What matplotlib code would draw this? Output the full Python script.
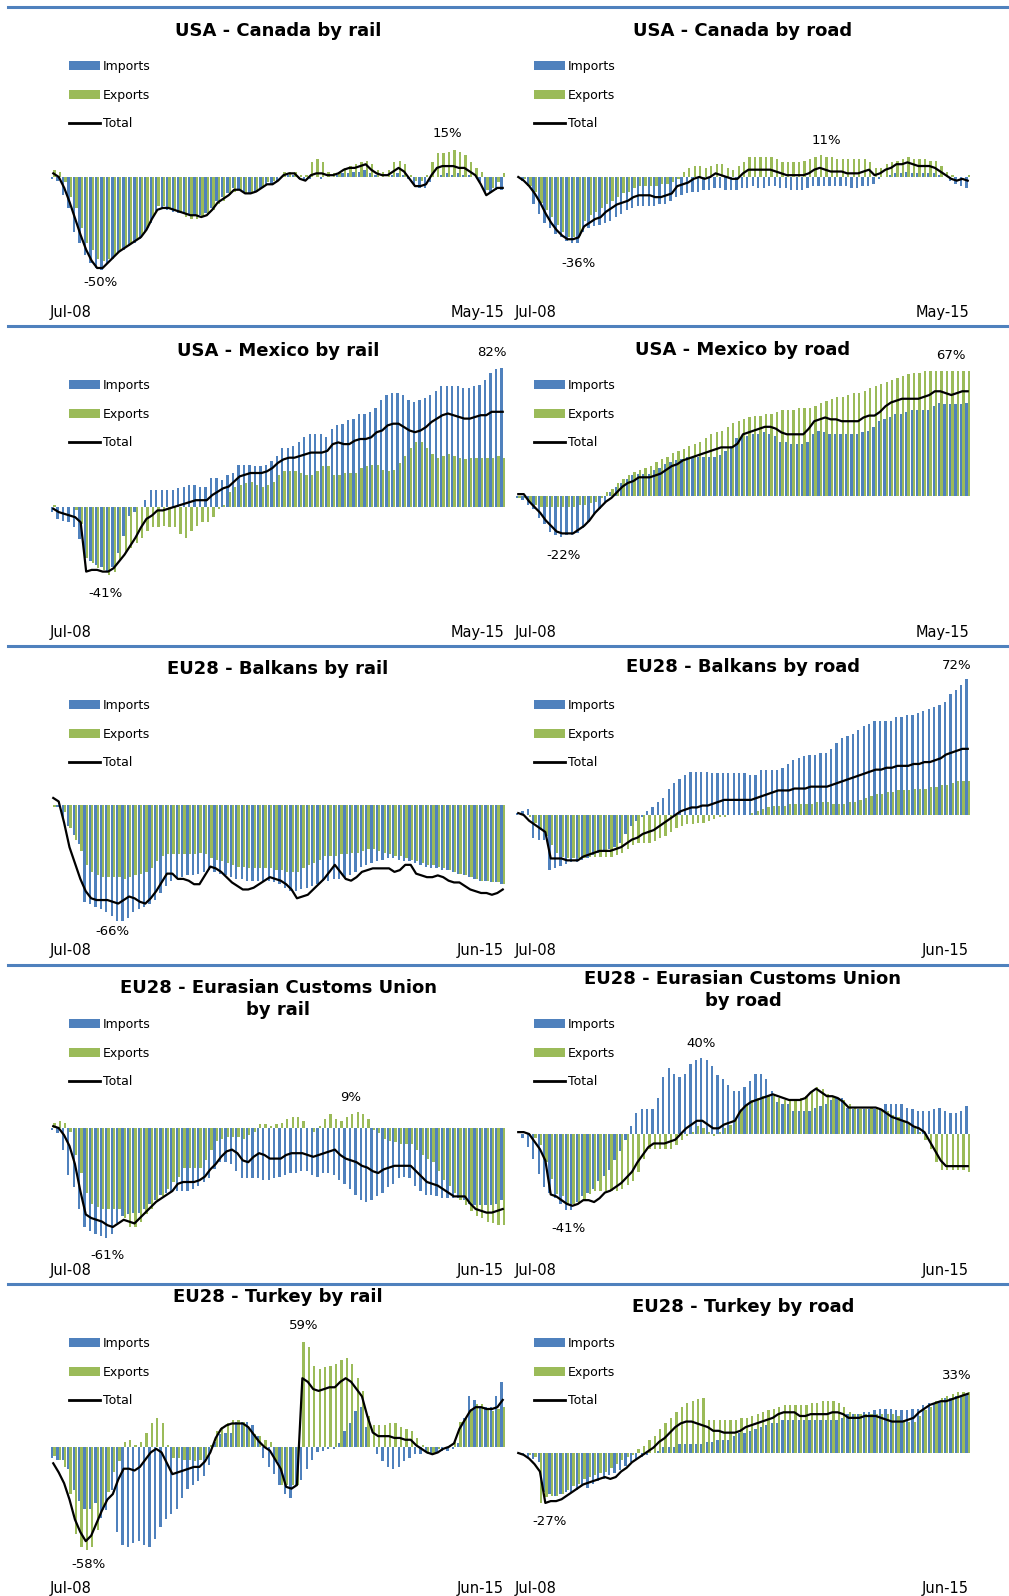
import numpy as np
import matplotlib.pyplot as plt
from matplotlib.patches import Patch
from matplotlib.lines import Line2D

BLUE = "#4F81BD"
GREEN = "#9BBB59"

start_label = "Jul-08"

# USA - Canada by rail (Jul-08 .. May-15)
can_rail_imp = [-1, -2, -10, -17, -30, -36, -43, -47, -50, -51,
                -48, -45, -42, -40, -38, -36, -34, -30, -25, -19,
                -17, -18, -19, -20, -20, -21, -21, -21, -20, -17,
                -13, -11, -9, -6, -7, -9, -9, -8, -6, -4,
                -4, -3, 0, 1, 1, -1, -2, -1, 0, -1,
                0, 0, 1, 2, 2, 3, 3, 4, 2, 1,
                0, 0, 1, 2, 1, -1, -4, -6, -6, -3,
                0, 1, 2, 1, 2, 1, 1, 0, -3, -8,
                -9, -7, -7]
can_rail_exp = [4, 3, -3, -11, -17, -28, -36, -40, -45, -46,
                -45, -43, -40, -38, -36, -34, -32, -28, -22, -16,
                -16, -17, -18, -20, -22, -23, -23, -22, -21, -18,
                -15, -13, -10, -8, -7, -9, -9, -8, -6, -3,
                -2, 0, 3, 3, 3, 1, 1, 8, 10, 8,
                3, 2, 3, 5, 6, 7, 8, 9, 7, 4,
                3, 4, 8, 9, 7, 1, -2, -2, 1, 8,
                13, 13, 14, 15, 14, 12, 8, 5, 3, -7,
                -6, -3, 2]
can_rail_tot = [2, 0, -6, -14, -23, -32, -40, -46, -50, -50,
                -47, -44, -41, -39, -37, -35, -33, -29, -23, -18,
                -17, -17, -18, -19, -20, -21, -21, -22, -21, -18,
                -14, -12, -10, -7, -7, -9, -9, -8, -6, -4,
                -4, -2, 1, 2, 2, -1, -2, 1, 2, 2,
                1, 1, 2, 4, 5, 5, 6, 7, 4, 2,
                1, 1, 3, 5, 3, -1, -5, -5, -4, 1,
                5, 6, 6, 6, 5, 5, 3, 1, -4, -10,
                -8, -6, -6]

# USA - Canada by road
can_road_imp = [0, -2, -5, -15, -20, -25, -28, -31, -33, -35,
                -36, -36, -30, -28, -27, -26, -25, -24, -22, -20,
                -18, -17, -16, -16, -16, -16, -15, -15, -13, -11,
                -10, -9, -8, -8, -7, -7, -6, -6, -7, -7,
                -7, -6, -6, -5, -6, -6, -5, -5, -6, -6,
                -7, -7, -7, -6, -5, -5, -5, -5, -5, -5,
                -5, -6, -6, -5, -5, -4, -1, 0, 1, 2,
                2, 3, 2, 2, 2, 2, 2, 1, 0, -2,
                -4, -5, -6]
can_road_exp = [0, -1, -5, -8, -14, -18, -22, -26, -30, -33,
                -33, -32, -24, -21, -19, -17, -15, -13, -11, -9,
                -8, -6, -5, -5, -5, -5, -4, -4, -3, -1,
                3, 5, 6, 6, 5, 6, 7, 7, 5, 4,
                6, 8, 11, 11, 11, 11, 11, 10, 8, 8,
                8, 8, 9, 10, 11, 12, 11, 11, 10, 10,
                10, 10, 10, 10, 8, 5, 5, 7, 8, 9,
                10, 11, 10, 10, 10, 9, 9, 6, 3, 1,
                0, 0, 1]
can_road_tot = [0, -2, -5, -9, -14, -20, -25, -29, -32, -34,
                -34, -33, -27, -25, -23, -22, -19, -17, -15, -14,
                -13, -11, -10, -10, -10, -11, -11, -10, -9, -5,
                -4, -3, -1, 0, -1, 0, 2, 1, 0, -1,
                -1, 2, 4, 4, 4, 4, 4, 3, 2, 1,
                1, 1, 1, 2, 4, 5, 4, 3, 3, 3,
                2, 2, 2, 3, 4, 1, 2, 4, 5, 7,
                7, 8, 7, 6, 6, 6, 5, 3, 1, -1,
                -2, -1, -2]

# USA - Mexico by rail
mex_rail_imp = [-3, -7, -8, -9, -12, -19, -30, -32, -34, -35,
                -38, -35, -27, -17, -5, -3, 0, 4, 10, 10,
                10, 10, 10, 11, 12, 13, 13, 12, 12, 17,
                17, 16, 19, 20, 25, 25, 25, 24, 24, 25,
                27, 30, 35, 35, 36, 38, 41, 43, 43, 43,
                41, 46, 48, 49, 51, 52, 55, 55, 56, 58,
                63, 66, 67, 67, 66, 63, 62, 63, 64, 66,
                68, 71, 71, 71, 71, 70, 70, 71, 72, 75,
                79, 81, 82]
mex_rail_exp = [1, 0, 0, 0, -2, -10, -30, -33, -36, -37,
                -40, -38, -31, -27, -24, -21, -18, -14, -12, -12,
                -11, -12, -12, -16, -18, -14, -11, -9, -9, -6,
                -1, 1, 9, 12, 13, 14, 15, 13, 12, 13,
                15, 19, 21, 21, 21, 20, 19, 19, 21, 24,
                24, 19, 19, 20, 20, 20, 23, 24, 25, 25,
                22, 21, 22, 26, 30, 35, 38, 38, 35, 31,
                29, 30, 31, 30, 29, 28, 29, 29, 29, 29,
                29, 30, 29]
mex_rail_tot = [-1, -3, -4, -5, -6, -9, -38, -37, -37, -38,
                -38, -36, -32, -28, -23, -18, -12, -7, -5, -2,
                -2, -1, 0, 1, 2, 3, 4, 4, 4, 7,
                9, 11, 12, 15, 18, 19, 20, 20, 20, 21,
                23, 26, 28, 29, 29, 30, 31, 32, 32, 32,
                33, 37, 38, 37, 37, 39, 40, 40, 41, 44,
                45, 48, 49, 49, 47, 45, 44, 45, 47, 50,
                52, 54, 55, 54, 53, 52, 52, 53, 54, 54,
                56, 56, 56]

# USA - Mexico by road
mex_road_imp = [-1, -2, -5, -7, -12, -15, -19, -21, -22, -21,
                -21, -20, -17, -14, -10, -7, -3, 2, 5, 7,
                9, 11, 12, 12, 12, 14, 15, 17, 18, 19,
                20, 21, 21, 21, 21, 21, 21, 22, 24, 27,
                31, 32, 32, 33, 33, 34, 33, 32, 29, 29,
                28, 28, 28, 29, 33, 35, 34, 33, 33, 33,
                33, 33, 33, 34, 35, 37, 40, 41, 42, 44,
                44, 45, 46, 46, 46, 46, 48, 50, 49, 49,
                49, 49, 50]
mex_road_exp = [-1, -1, -4, -5, -6, -6, -6, -6, -6, -6,
                -6, -5, -5, -4, -3, -1, 2, 4, 7, 9,
                11, 13, 14, 15, 16, 18, 20, 21, 23, 24,
                25, 27, 28, 29, 31, 33, 34, 35, 37, 39,
                40, 41, 42, 43, 43, 44, 44, 45, 46, 46,
                46, 47, 47, 47, 48, 50, 51, 52, 53, 53,
                54, 55, 55, 56, 58, 59, 60, 61, 62, 63,
                64, 65, 66, 66, 67, 67, 67, 67, 67, 67,
                67, 67, 67]
mex_road_tot = [1, 1, -3, -6, -9, -13, -16, -19, -20, -20,
                -20, -18, -16, -13, -9, -6, -3, -1, 2, 5,
                7, 8, 10, 10, 10, 11, 12, 14, 16, 17,
                19, 20, 21, 22, 23, 24, 25, 26, 26, 26,
                28, 33, 34, 35, 36, 37, 37, 36, 34, 33,
                33, 33, 33, 36, 40, 41, 42, 41, 41, 40,
                40, 40, 40, 42, 43, 43, 45, 48, 50, 51,
                52, 52, 52, 52, 53, 54, 56, 56, 55, 54,
                55, 56, 56]

# EU28 - Balkans by rail (Jul-08 .. Jun-15)
bal_rail_imp = [0, -1, -8, -12, -17, -22, -55, -56, -58, -59,
                -61, -63, -66, -66, -64, -61, -59, -58, -56, -54,
                -50, -46, -43, -42, -41, -40, -40, -39, -38, -37,
                -38, -39, -40, -41, -42, -42, -43, -43, -43, -43,
                -43, -44, -45, -47, -49, -49, -48, -47, -46, -45,
                -43, -43, -42, -42, -41, -40, -38, -35, -34, -33,
                -32, -31, -30, -30, -31, -32, -32, -33, -34, -35,
                -36, -36, -37, -37, -38, -39, -40, -41, -42, -43,
                -43, -44, -44, -45]
bal_rail_exp = [-1, 0, -4, -13, -20, -26, -34, -38, -40, -41,
                -41, -41, -41, -42, -41, -40, -39, -38, -36, -32,
                -29, -28, -28, -28, -28, -28, -28, -27, -28, -30,
                -31, -32, -33, -34, -35, -35, -36, -36, -36, -36,
                -36, -37, -37, -38, -38, -38, -36, -34, -33, -31,
                -29, -29, -29, -28, -28, -27, -27, -26, -25, -25,
                -26, -27, -28, -29, -29, -30, -31, -32, -33, -34,
                -34, -35, -36, -37, -38, -39, -40, -41, -42, -43,
                -43, -44, -44, -45]
bal_rail_tot = [4, 2, -10, -24, -33, -42, -49, -53, -54, -54,
                -54, -55, -56, -54, -52, -53, -55, -56, -53, -49,
                -44, -39, -39, -42, -42, -43, -45, -45, -40, -35,
                -36, -38, -41, -44, -46, -48, -48, -47, -45, -43,
                -41, -42, -43, -45, -48, -53, -52, -51, -48, -45,
                -42, -38, -34, -38, -42, -43, -41, -38, -37, -36,
                -36, -36, -36, -38, -37, -34, -34, -39, -40, -41,
                -41, -40, -41, -43, -44, -44, -46, -48, -49, -50,
                -50, -51, -50, -48]

# EU28 - Balkans by road
bal_road_imp = [1, 2, 3, -12, -13, -13, -29, -28, -27, -26,
                -25, -25, -24, -23, -21, -20, -19, -18, -17, -15,
                -10, -6, -3, -1, 2, 4, 7, 9, 14, 17,
                19, 21, 23, 23, 23, 23, 22, 22, 22, 22,
                22, 22, 22, 21, 21, 24, 24, 24, 24, 25,
                27, 29, 30, 31, 32, 32, 33, 33, 35, 38,
                41, 42, 43, 45, 47, 48, 50, 50, 50, 50,
                52, 52, 53, 53, 54, 55, 56, 57, 58, 60,
                64, 66, 69, 72]
bal_road_exp = [0, 0, -1, -4, -8, -11, -16, -20, -22, -23,
                -23, -23, -23, -22, -22, -22, -22, -22, -21, -20,
                -18, -16, -15, -15, -15, -14, -12, -11, -9, -7,
                -6, -5, -5, -4, -4, -3, -2, -1, -1, 0,
                0, 0, 0, 1, 2, 3, 4, 5, 5, 5,
                6, 6, 6, 6, 6, 7, 7, 7, 6, 6,
                6, 7, 7, 8, 9, 10, 11, 11, 12, 12,
                13, 13, 13, 14, 14, 14, 15, 15, 16, 16,
                17, 18, 18, 18]
bal_road_tot = [1, 0, -3, -5, -7, -9, -23, -23, -23, -24,
                -24, -24, -22, -21, -20, -19, -19, -19, -18, -17,
                -15, -13, -12, -10, -9, -8, -6, -4, -2, 0,
                2, 3, 4, 4, 5, 5, 6, 7, 8, 8,
                8, 8, 8, 8, 9, 10, 11, 12, 13, 13,
                13, 14, 14, 14, 15, 15, 15, 15, 16, 17,
                18, 19, 20, 21, 22, 23, 24, 24, 25, 25,
                26, 26, 26, 27, 27, 28, 28, 29, 30, 32,
                33, 34, 35, 35]

# EU28 - Eurasian Customs Union by rail
ecu_rail_imp = [-1, -3, -12, -26, -33, -45, -55, -57, -59, -60,
                -61, -59, -53, -49, -48, -47, -47, -45, -42, -40,
                -37, -36, -35, -35, -35, -35, -34, -32, -30, -28,
                -23, -19, -19, -20, -24, -28, -28, -28, -28, -29,
                -29, -28, -27, -26, -25, -25, -24, -24, -26, -27,
                -25, -25, -26, -29, -31, -34, -37, -40, -41, -40,
                -38, -36, -33, -31, -28, -27, -28, -32, -35, -37,
                -37, -38, -39, -39, -39, -39, -40, -42, -43, -43,
                -43, -43, -42, -40]
ecu_rail_exp = [3, 4, 3, -2, -15, -25, -36, -42, -44, -45,
                -45, -45, -45, -50, -55, -55, -52, -48, -45, -40,
                -38, -34, -30, -27, -22, -22, -22, -22, -18, -12,
                -7, -6, -5, -5, -5, -6, -4, -2, 2, 2,
                1, 2, 3, 5, 6, 6, 4, 0, -2, 1,
                5, 8, 5, 4, 6, 8, 9, 8, 5, -1,
                -3, -6, -7, -8, -9, -9, -9, -12, -15, -17,
                -19, -24, -29, -32, -36, -40, -43, -46, -49, -50,
                -52, -53, -54, -54]
ecu_rail_tot = [1, 0, -4, -10, -20, -35, -48, -50, -51, -52,
                -54, -55, -53, -51, -52, -53, -50, -47, -44, -41,
                -39, -37, -35, -31, -30, -30, -30, -29, -27, -23,
                -20, -16, -13, -12, -14, -18, -19, -16, -14, -15,
                -17, -17, -17, -15, -14, -14, -14, -15, -16, -15,
                -14, -13, -12, -15, -17, -18, -19, -21, -22, -24,
                -25, -23, -22, -21, -21, -21, -21, -24, -27, -30,
                -31, -32, -34, -36, -38, -38, -38, -42, -45, -46,
                -47, -47, -46, -45]

# EU28 - Eurasian Customs Union by road
ecu_road_imp = [0, -2, -7, -13, -21, -28, -31, -34, -37, -40,
                -40, -36, -33, -31, -29, -25, -22, -19, -14, -9,
                -3, 4, 11, 13, 13, 13, 19, 30, 35, 32,
                30, 32, 37, 39, 40, 39, 36, 31, 29, 26,
                23, 23, 25, 28, 32, 32, 29, 23, 17, 16,
                16, 12, 12, 12, 12, 14, 15, 16, 18, 19,
                19, 14, 13, 13, 13, 13, 13, 13, 16, 16,
                16, 16, 14, 13, 12, 12, 12, 13, 14, 12,
                11, 11, 12, 15]
ecu_road_exp = [0, 0, -1, -2, -6, -15, -24, -32, -33, -37,
                -37, -37, -35, -32, -30, -30, -30, -30, -30, -29,
                -27, -25, -20, -13, -8, -8, -8, -8, -8, -6,
                -3, -1, 1, 4, 3, 1, -1, 1, 3, 5,
                8, 13, 16, 18, 19, 20, 20, 20, 19, 18,
                18, 18, 19, 20, 22, 25, 24, 21, 20, 19,
                18, 16, 14, 13, 13, 14, 14, 13, 12, 10,
                9, 7, 6, 3, 1, -3, -8, -15, -19, -19,
                -19, -19, -19, -20]
ecu_road_tot = [1, 1, 0, -4, -8, -14, -32, -33, -35, -37,
                -38, -37, -35, -35, -36, -34, -31, -30, -28, -26,
                -23, -20, -15, -11, -7, -5, -5, -5, -4, -3,
                0, 3, 5, 7, 7, 5, 3, 3, 5, 6,
                7, 12, 15, 17, 18, 19, 20, 21, 20, 19,
                18, 18, 18, 19, 22, 24, 22, 20, 20, 19,
                17, 14, 14, 14, 14, 14, 14, 13, 11, 9,
                8, 7, 6, 4, 3, 1, -4, -9, -14, -17,
                -17, -17, -17, -17]

# EU28 - Turkey by rail
tur_rail_imp = [-6, -7, -7, -12, -24, -30, -34, -34, -31, -39,
                -35, -24, -47, -54, -55, -53, -52, -54, -55, -51,
                -44, -40, -37, -34, -28, -23, -21, -19, -16, -10,
                3, 7, 8, 8, 14, 14, 14, 12, 6, -6,
                -11, -15, -21, -26, -28, -21, -18, -12, -7, -3,
                -2, -1, -1, 2, 9, 13, 20, 22, 11, 0,
                -4, -8, -11, -12, -11, -8, -6, -4, -4, -2,
                -4, -3, -2, -2, -1, 2, 16, 28, 26, 22,
                22, 22, 28, 36]
tur_rail_exp = [-5, -7, -11, -26, -48, -55, -57, -55, -46, -35,
                -25, -14, -8, 3, 4, 1, 3, 8, 13, 16,
                13, 1, -6, -6, -7, -7, -8, -7, -6, 1,
                9, 11, 13, 15, 15, 14, 10, 7, 6, 4,
                3, -8, -21, -21, -21, -21, 58, 55, 45, 43,
                44, 45, 46, 48, 49, 46, 38, 31, 17, 12,
                12, 12, 13, 13, 11, 10, 9, 5, 1, -4,
                -4, -1, 0, 1, 3, 14, 16, 21, 24, 24,
                21, 20, 21, 22]
tur_rail_tot = [-9, -14, -20, -29, -40, -47, -52, -49, -42, -35,
                -29, -26, -18, -12, -12, -13, -11, -7, -3, -1,
                -3, -9, -15, -14, -13, -12, -11, -11, -8, -3,
                5, 10, 12, 13, 13, 13, 11, 7, 3, 0,
                -2, -7, -12, -22, -23, -21, 38, 36, 32, 31,
                32, 33, 33, 36, 38, 36, 32, 28, 17, 8,
                6, 6, 6, 5, 5, 4, 4, 1, -1, -3,
                -4, -3, -1, 0, 2, 10, 15, 20, 22, 22,
                21, 21, 22, 26]

# EU28 - Turkey by road
tur_road_imp = [0, -1, -2, -3, -5, -21, -22, -23, -22, -21,
                -21, -20, -18, -19, -17, -15, -14, -12, -11, -9,
                -7, -5, -3, -2, -1, 0, 1, 3, 3, 3,
                5, 5, 5, 5, 5, 6, 6, 7, 7, 7,
                9, 11, 11, 12, 13, 14, 15, 16, 16, 18,
                18, 18, 18, 18, 18, 18, 18, 18, 18, 18,
                19, 21, 21, 21, 22, 22, 23, 24, 24, 24,
                23, 23, 23, 24, 24, 26, 27, 27, 28, 30,
                30, 31, 31, 32]
tur_road_exp = [0, 0, -1, -2, -27, -24, -23, -23, -22, -20,
                -18, -17, -14, -13, -12, -11, -10, -8, -6, -4,
                -2, -1, 2, 4, 7, 9, 13, 16, 19, 22,
                25, 27, 28, 29, 30, 18, 18, 18, 18, 18,
                18, 19, 19, 20, 21, 22, 23, 24, 25, 26,
                26, 26, 26, 26, 27, 27, 28, 28, 28, 27,
                25, 22, 21, 21, 21, 21, 21, 21, 21, 21,
                20, 18, 17, 17, 20, 23, 25, 28, 30, 31,
                32, 33, 33, 33]
tur_road_tot = [0, -1, -3, -6, -10, -27, -26, -26, -25, -23,
                -21, -19, -17, -16, -15, -14, -13, -14, -13, -10,
                -8, -5, -3, -1, 1, 3, 6, 8, 11, 14,
                16, 17, 17, 16, 15, 14, 12, 12, 11, 11,
                11, 12, 14, 15, 16, 17, 18, 19, 21, 22,
                22, 22, 20, 20, 21, 21, 21, 21, 22, 22,
                21, 19, 19, 19, 20, 20, 20, 19, 18, 17,
                17, 17, 18, 19, 22, 24, 26, 27, 28, 28,
                29, 30, 31, 32]

titles = ["USA - Canada by rail", "USA - Canada by road",
          "USA - Mexico by rail", "USA - Mexico by road",
          "EU28 - Balkans by rail", "EU28 - Balkans by road",
          "EU28 - Eurasian Customs Union\nby rail",
          "EU28 - Eurasian Customs Union\nby road",
          "EU28 - Turkey by rail", "EU28 - Turkey by road"]
end_labels = ["May-15", "May-15", "May-15", "May-15",
              "Jun-15", "Jun-15", "Jun-15", "Jun-15", "Jun-15", "Jun-15"]
series = [(can_rail_imp, can_rail_exp, can_rail_tot),
          (can_road_imp, can_road_exp, can_road_tot),
          (mex_rail_imp, mex_rail_exp, mex_rail_tot),
          (mex_road_imp, mex_road_exp, mex_road_tot),
          (bal_rail_imp, bal_rail_exp, bal_rail_tot),
          (bal_road_imp, bal_road_exp, bal_road_tot),
          (ecu_rail_imp, ecu_rail_exp, ecu_rail_tot),
          (ecu_road_imp, ecu_road_exp, ecu_road_tot),
          (tur_rail_imp, tur_rail_exp, tur_rail_tot),
          (tur_road_imp, tur_road_exp, tur_road_tot)]
# peak / trough call-outs: (text, month, value)
callouts = [[("-50%", 8.7, -58), ("15%", 71.9, 24)],
            [("-36%", 11.0, -47), ("11%", 56.2, 20)],
            [("-41%", 9.6, -51), ("82%", 80.1, 91)],
            [("-22%", 8.2, -32), ("67%", 79.0, 75)],
            [("-66%", 11.0, -72)],
            [("72%", 81.0, 79)],
            [("-61%", 10.1, -71), ("9%", 55.0, 17)],
            [("-41%", 9.2, -50), ("40%", 33.8, 48)],
            [("-58%", 6.6, -65), ("59%", 46.2, 67)],
            [("-27%", 5.7, -37), ("33%", 81.0, 42)]]

# layout (pixels)
W, H = 1009, 1596
seps = [7, 326, 646, 965, 1284, 1603]
zero_px = [177, 177, 507, 496, 805, 815, 1128, 1134, 1447, 1453]
px_per_pct = [1.82, 1.83, 1.70, 1.87, 1.76, 1.89, 1.80, 1.89, 1.81, 1.85]
title_y = [31, 31, 351, 350, 669, 667, 999, 990, 1297, 1307]
col_x = [50, 515]
box_w = 456

fig = plt.figure(figsize=(W / 100, H / 100), dpi=100)


def fx(px):
    return px / W


def fy(py):
    return 1 - py / H


for r in range(5):
    fig.add_artist(Line2D([fx(8), 1], [fy(seps[r]), fy(seps[r])],
                          color=BLUE, lw=2.2))

handles = [Patch(facecolor=BLUE, label="Imports"),
           Patch(facecolor=GREEN, label="Exports"),
           Line2D([], [], color="black", lw=2, label="Total")]

for i, (imp, exp, tot) in enumerate(series):
    r, c = i // 2, i % 2
    top, bot = seps[r] + 30, seps[r] + 290
    x0 = col_x[c]
    ax = fig.add_axes([fx(x0), fy(bot), box_w / W, (bot - top) / H])
    n = len(tot)
    m = np.arange(n)
    ax.bar(m - 0.21, imp, 0.42, color=BLUE, linewidth=0)
    ax.bar(m + 0.21, exp, 0.42, color=GREEN, linewidth=0)
    ax.plot(m, tot, color="black", lw=1.6)
    ax.set_xlim(-0.6, n - 0.4)
    s = px_per_pct[i]
    ax.set_ylim(-(bot - zero_px[i]) / s, (zero_px[i] - top) / s)
    ax.axis("off")
    for txt, mx, val in callouts[i]:
        ax.text(mx, val, txt, ha="center", va="center", fontsize=9.5)

    fig.text(fx(x0 + box_w / 2), fy(title_y[i]), titles[i], ha="center",
             va="center", fontsize=13, fontweight="bold", linespacing=1.3)
    ax.legend(handles=handles, loc="upper left",
              bbox_to_anchor=(fx(x0 + 19), fy(seps[r] + 53)),
              bbox_transform=fig.transFigure, frameon=False, borderpad=0,
              borderaxespad=0, handlelength=2.5, handletextpad=0.2,
              labelspacing=1.25, fontsize=9)
    ly = fy(seps[r + 1] - 14)
    fig.text(fx(x0), ly, start_label, ha="left", va="center", fontsize=10.5)
    fig.text(fx(x0 + box_w - 2), ly, end_labels[i], ha="right", va="center",
             fontsize=10.5)

fig.savefig("out.png", dpi=100)
